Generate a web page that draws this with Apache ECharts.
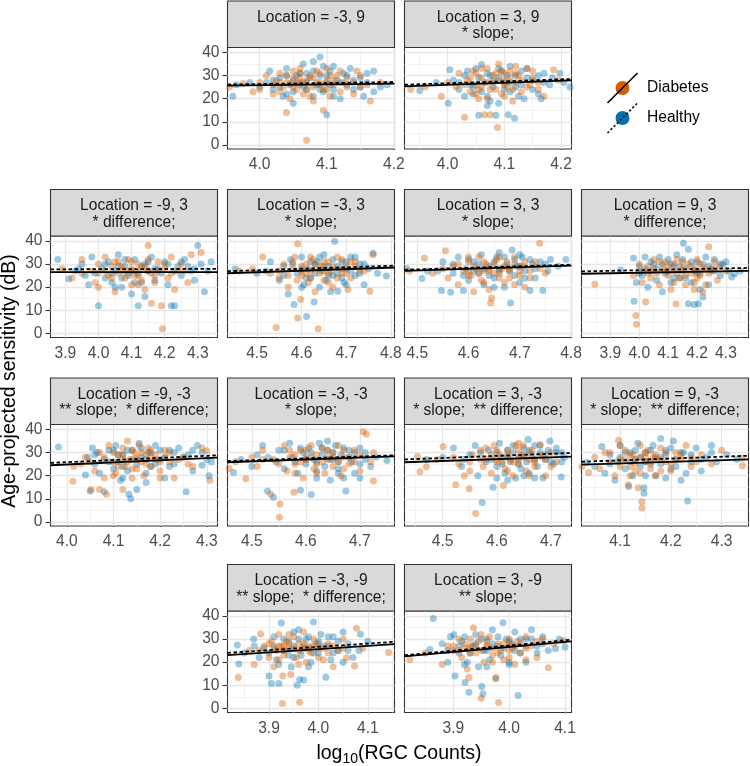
<!DOCTYPE html>
<html><head><meta charset="utf-8">
<script src="https://cdn.jsdelivr.net/npm/echarts@6/dist/echarts.min.js"></script>
<style>html,body{margin:0;padding:0;background:#fff}#c{width:750px;height:766px}</style>
</head><body><div id="c"></div><script>
// ---------------- DATA ----------------
const panelLocations = ['-3, 9','3, 9','-9, 3','-3, 3','3, 3','9, 3','-9, -3','-3, -3','3, -3','9, -3','-3, -9','3, -9'];
const panelNotes = ['', '* slope;', '* difference;', '* slope;', '* slope;', '* difference;',
  '** slope;  * difference;', '* slope;', '* slope;  ** difference;', '* slope;  ** difference;',
  '** slope;  * difference;', '** slope;'];
const xTickLabels = [[4.0,4.1,4.2],[4.0,4.1,4.2],[3.9,4.0,4.1,4.2,4.3],[4.5,4.6,4.7,4.8],[4.5,4.6,4.7,4.8],[3.9,4.0,4.1,4.2,4.3],
  [4.0,4.1,4.2,4.3],[4.5,4.6,4.7],[4.5,4.6,4.7],[4.1,4.2,4.3],[3.9,4.0,4.1],[3.9,4.0,4.1]];
const xRanges = [[3.952,4.201],[3.924,4.2185],[3.855,4.3595],[4.434,4.808],[4.475,4.801],[3.800,4.378],
  [3.965,4.323],[4.455,4.764],[4.4295,4.738],[4.024,4.353],[3.816,4.154],[3.8126,4.1116]];
const yTickLabels = [0,10,20,30,40];
// fitted regression lines: y at left and right end of each panel
const fitDiab = [[25.6,26.5],[25.3,27.9],[26.5,26.5],[26.0,28.5],[27.0,29.3],[25.8,27.0],[24.5,27.8],[25.8,28.3],[25.8,28.2],[24.8,27.0],[23.0,27.8],[22.5,29.0]];
const fitHlth = [[26.1,27.2],[26.0,28.5],[27.7,27.9],[26.9,29.3],[27.5,29.7],[26.8,28.3],[25.5,28.8],[26.3,28.8],[27.0,29.8],[26.0,28.6],[24.0,28.8],[23.0,29.7]];

const diab_m3_9 = [[3.955,25],[3.975,26.5],[3.99,23],[4.0,27],[4.01,30],[4.02,22],[4.025,28],[4.03,31],[4.035,25],[4.04,14],[4.04,27],[4.045,20],[4.05,29],[4.05,32],[4.055,24],[4.06,26],[4.06,33],[4.065,22],[4.07,2],[4.07,28],[4.075,30],[4.08,25],[4.08,19],[4.085,27],[4.09,31],[4.095,15],[4.095,24],[4.1,28],[4.1,33],[4.105,21],[4.11,26],[4.115,30],[4.12,23],[4.125,27],[4.13,29],[4.14,22],[4.145,32],[4.15,25],[4.165,19],[4.18,27],[4.03,27],[4.06,29],[4.09,27],[4.045,26.5],[4.055,27],
  [4.02,26],[4.03,23],[4.04,30],[4.05,25],[4.06,31],[4.065,27],[4.07,24],[4.08,29],[4.085,32],[4.09,26],[4.1,24],[4.105,30],[4.11,28],[4.12,32],[4.13,25],[4.14,27],[4.15,30],[4.16,26],[4.0,24],[4.075,21]];
const hlth_m3_9 = [[3.96,21],[3.965,26],[3.985,27],[4.0,25],[4.01,27],[4.015,32],[4.02,24],[4.03,29],[4.035,21],[4.04,33],[4.045,26],[4.05,23],[4.055,30],[4.06,27],[4.065,35],[4.07,24],[4.075,29],[4.08,36],[4.08,21],[4.085,26],[4.09,38],[4.09,30],[4.095,23],[4.1,13],[4.1,27],[4.105,32],[4.11,24],[4.115,28],[4.12,20],[4.125,31],[4.13,26],[4.135,33],[4.14,24],[4.15,29],[4.155,21],[4.16,27],[4.17,32],[4.18,25],[4.19,26],[4.05,18],[4.11,34],[4.07,31],
  [4.02,28],[4.03,25],[4.04,22],[4.05,28],[4.06,31],[4.065,25],[4.07,27],[4.08,32],[4.09,24],[4.1,30],[4.105,26],[4.11,21],[4.12,27],[4.13,30],[4.14,28],[4.15,25],[4.16,31],[4.17,23],[4.04,30],[4.095,34]];
const diab_3_9 = [[3.935,24],[3.96,25],[3.989,21],[4.0,27],[4.015,25],[4.02,31],[4.03,12],[4.035,28],[4.04,23],[4.045,32],[4.05,26],[4.055,20],[4.06,29],[4.065,13],[4.07,33],[4.075,13],[4.075,24],[4.08,27],[4.085,31],[4.088,7.5],[4.09,35],[4.095,22],[4.1,28],[4.105,25],[4.11,32],[4.115,19],[4.12,27],[4.125,30],[4.13,23],[4.14,33],[4.145,26],[4.15,29],[4.16,24],[4.17,21],[4.187,32.5],[4.195,28],[4.06,25],[4.1,31],[4.07,20],[4.12,34],
  [4.03,26],[4.04,29],[4.05,31],[4.055,24],[4.06,33],[4.07,27],[4.08,30],[4.085,24],[4.09,28],[4.095,32],[4.1,26],[4.11,29],[4.115,24],[4.12,31],[4.13,28],[4.14,25],[4.15,32],[4.16,27],[4.05,22],[4.1,21]];
const hlth_3_9 = [[3.951,23.5],[3.98,27],[4.001,18],[4.004,32.5],[4.01,28],[4.02,24],[4.03,30],[4.04,26],[4.045,22],[4.05,33],[4.055,12.8],[4.06,34.8],[4.065,27],[4.07,21],[4.075,30],[4.08,25],[4.085,12.8],[4.09,18],[4.095,32],[4.1,27],[4.107,13],[4.11,23],[4.118,11.5],[4.12,30],[4.13,26],[4.135,20],[4.14,33],[4.15,28],[4.16,22],[4.165,20],[4.17,31],[4.18,26],[4.198,31],[4.205,27],[4.216,25],[4.09,29],[4.11,34],[4.03,21],[4.07,17],
  [4.02,27],[4.035,32],[4.045,25],[4.055,29],[4.06,23],[4.07,31],[4.08,28],[4.09,33],[4.1,24],[4.105,30],[4.11,27],[4.12,25],[4.13,32],[4.14,29],[4.15,24],[4.16,30],[4.17,27],[4.185,29],[4.075,19],[4.125,21]];
const diab_m9_3 = [[3.89,28],[3.92,24],[3.95,32],[3.98,27],[3.99,22],[4.0,20],[4.0,26],[4.02,33],[4.03,25],[4.04,29],[4.05,18],[4.06,31],[4.07,27],[4.08,24],[4.09,32],[4.1,21],[4.1,28],[4.11,25],[4.12,30],[4.13,23],[4.14,19],[4.15,38],[4.15,27],[4.16,13],[4.17,25],[4.18,31],[4.19,12],[4.193,2],[4.2,28],[4.21,24],[4.22,33],[4.23,19],[4.24,27],[4.25,30],[4.27,22],[4.28,34],[4.31,35],[4.06,26],[4.13,28],
  [3.95,26],[4.0,30],[4.02,27],[4.04,24],[4.05,31],[4.07,29],[4.08,27],[4.09,26],[4.1,31],[4.11,27],[4.12,25],[4.14,29],[4.15,32],[4.16,26],[4.18,27],[4.2,30],[4.22,26],[4.26,27],[4.12,21],[4.17,22]];
const hlth_m9_3 = [[3.877,32],[3.91,23.5],[3.93,27],[3.95,30],[3.96,25],[3.97,21],[3.98,33],[4.0,12],[4.01,28],[4.02,24],[4.03,31],[4.04,22],[4.05,27],[4.06,34],[4.07,20],[4.08,29],[4.09,25],[4.1,17],[4.11,32],[4.12,12],[4.12,26],[4.13,22],[4.14,30],[4.15,27],[4.16,33],[4.17,23],[4.18,28],[4.2,31],[4.21,21],[4.22,12],[4.23,12],[4.24,29],[4.25,25],[4.26,32],[4.28,27],[4.3,38],[4.31,30],[4.32,18],[4.34,31],[4.29,23],[4.14,16],
  [3.94,28],[3.99,26],[4.02,30],[4.04,26],[4.06,29],[4.07,24],[4.08,32],[4.1,27],[4.11,22],[4.13,29],[4.15,31],[4.17,28],[4.19,26],[4.21,30],[4.23,27],[4.25,31],[4.27,29],[4.29,28],[4.33,27],[4.05,20]];
const diab_m3_3 = [[4.46,27],[4.49,28],[4.513,33],[4.53,26],[4.543,2.6],[4.55,24],[4.56,30],[4.57,20],[4.58,28],[4.585,33],[4.591,38.8],[4.591,6.7],[4.598,14.7],[4.6,25],[4.61,30],[4.615,22],[4.62,27],[4.625,32],[4.63,18],[4.637,2],[4.64,26],[4.645,29],[4.65,23],[4.66,31],[4.665,27],[4.67,20],[4.68,33],[4.69,26],[4.7,29],[4.704,19],[4.71,24],[4.72,31],[4.73,27],[4.753,18.2],[4.76,34],[4.6,27],[4.65,27],[4.69,32],
  [4.55,27],[4.57,25],[4.58,31],[4.6,29],[4.61,26],[4.62,24],[4.63,30],[4.64,28],[4.65,31],[4.66,26],[4.67,29],[4.68,24],[4.69,28],[4.7,26],[4.72,29],[4.74,27],[4.62,33],[4.66,22],[4.59,23],[4.71,31]];
const hlth_m3_3 = [[4.451,27.8],[4.5,26],[4.53,31],[4.55,23],[4.56,29],[4.57,17],[4.575,32],[4.583,12.5],[4.59,26],[4.6,33],[4.605,21],[4.611,7.3],[4.615,28],[4.62,24],[4.628,13.6],[4.635,31],[4.64,20],[4.645,27],[4.65,34],[4.655,23],[4.66,29],[4.665,18],[4.674,39.8],[4.68,26],[4.681,18.2],[4.69,31],[4.695,22],[4.7,28],[4.71,33],[4.72,25],[4.73,30],[4.74,21],[4.75,28],[4.76,34.7],[4.77,26],[4.79,24.8],[4.63,30],[4.67,25],
  [4.52,27],[4.56,25],[4.58,30],[4.6,28],[4.61,24],[4.62,31],[4.63,26],[4.64,33],[4.65,29],[4.66,25],[4.67,32],[4.68,29],[4.69,24],[4.7,31],[4.71,27],[4.72,33],[4.73,26],[4.74,30],[4.6,20],[4.7,21]];
const diab_3_3 = [[4.485,27],[4.514,32.6],[4.53,26],[4.555,35.7],[4.56,24],[4.57,29],[4.58,21],[4.59,27],[4.6,31],[4.605,25],[4.61,18],[4.615,28],[4.62,33],[4.625,23],[4.63,27],[4.635,30],[4.64,19],[4.643,13.2],[4.645,15.3],[4.65,26],[4.655,32],[4.66,24],[4.665,28],[4.67,22],[4.675,31],[4.68,27],[4.69,33],[4.7,25],[4.705,29],[4.71,20],[4.72,27],[4.73,31],[4.739,39],[4.75,26],[4.6,27],[4.64,27],[4.68,28],
  [4.55,28],[4.58,30],[4.6,25],[4.61,29],[4.62,26],[4.63,31],[4.64,28],[4.65,30],[4.66,26],[4.67,29],[4.68,24],[4.69,30],[4.7,27],[4.71,31],[4.72,24],[4.74,28],[4.6,33],[4.66,33],[4.63,22],[4.69,21]];
const hlth_3_3 = [[4.48,28],[4.509,23.7],[4.52,27],[4.547,18.6],[4.55,31],[4.565,17.8],[4.57,26],[4.58,33],[4.59,18.6],[4.595,28],[4.6,23],[4.61,31],[4.62,26],[4.625,34],[4.63,21],[4.64,29],[4.65,24],[4.655,33],[4.66,27],[4.67,20],[4.675,30],[4.682,13.2],[4.685,36],[4.69,25],[4.695,29],[4.7,22],[4.705,33],[4.71,27],[4.72,18.6],[4.725,30],[4.73,24],[4.74,31],[4.745,18.6],[4.755,27],[4.76,32],[4.775,29],[4.79,32],[4.66,35],
  [4.54,27],[4.57,30],[4.59,25],[4.6,32],[4.61,27],[4.62,30],[4.63,28],[4.64,25],[4.65,31],[4.66,28],[4.67,33],[4.68,27],[4.69,32],[4.7,29],[4.71,24],[4.72,32],[4.73,28],[4.75,30],[4.65,20],[4.7,34]];
const diab_9_3 = [[3.846,21.3],[3.98,25],[3.988,7.8],[3.99,4],[4.0,27],[4.01,22],[4.022,13.6],[4.03,29],[4.04,24],[4.05,32],[4.06,26],[4.07,21],[4.08,28],[4.09,31],[4.1,25],[4.11,19],[4.12,27],[4.127,12.7],[4.13,32],[4.14,24],[4.15,28],[4.16,21],[4.17,30],[4.18,26],[4.19,19],[4.2,32],[4.21,25],[4.22,18],[4.23,28],[4.24,37.5],[4.25,27],[4.26,31],[4.27,23],[4.28,29],[4.3,27],[4.02,27],[4.15,27],[4.2,27],
  [4.0,30],[4.03,26],[4.05,28],[4.07,31],[4.09,27],[4.1,29],[4.12,30],[4.13,26],[4.15,31],[4.16,25],[4.18,29],[4.19,27],[4.2,24],[4.21,30],[4.22,28],[4.24,26],[4.26,28],[4.12,22],[4.19,22],[4.23,21]];
const hlth_9_3 = [[3.935,27.4],[3.98,32.6],[3.982,13.9],[3.99,22],[4.0,29],[4.01,25],[4.02,33],[4.03,20],[4.04,27],[4.05,30],[4.06,23],[4.07,33],[4.08,18],[4.09,26],[4.1,32],[4.11,22],[4.12,29],[4.13,34],[4.14,24],[4.153,39],[4.16,28],[4.17,36.4],[4.17,12.8],[4.18,22],[4.19,12.5],[4.2,31],[4.205,12.8],[4.21,26],[4.22,15.8],[4.23,33],[4.24,21],[4.25,28],[4.26,32],[4.28,25],[4.29,30],[4.31,27],[4.32,24.4],[4.33,25.8],[4.35,27],
  [4.0,26],[4.02,28],[4.04,31],[4.06,28],[4.08,30],[4.1,27],[4.11,30],[4.12,24],[4.14,29],[4.15,32],[4.16,24],[4.18,31],[4.19,28],[4.2,26],[4.22,30],[4.24,29],[4.26,27],[4.28,30],[4.3,31],[4.21,19]];
const diab_m9_m3 = [[4.013,17.6],[4.015,24],[4.03,25],[4.04,28],[4.052,14],[4.06,22],[4.07,14],[4.07,30],[4.08,19],[4.085,12],[4.09,33],[4.1,26],[4.105,21],[4.11,29],[4.12,14],[4.12,32],[4.125,24],[4.13,35],[4.135,27],[4.14,19],[4.145,30],[4.15,23],[4.155,33],[4.16,26],[4.165,20],[4.17,29],[4.175,32],[4.18,24],[4.19,27],[4.2,22],[4.21,31],[4.22,26],[4.23,19],[4.25,28],[4.27,24],[4.29,32],[4.3,30.8],[4.307,18],[4.12,27],[4.15,27],[4.18,28],
  [4.05,26],[4.08,28],[4.1,30],[4.11,24],[4.12,29],[4.13,26],[4.14,31],[4.15,28],[4.16,30],[4.17,25],[4.18,31],[4.19,29],[4.2,26],[4.21,28],[4.22,30],[4.24,27],[4.26,25],[4.14,23],[4.1,20],[4.2,19]];
const hlth_m9_m3 = [[3.982,32.4],[4.04,20.3],[4.045,28],[4.05,13.4],[4.055,32],[4.06,25],[4.065,30],[4.07,21],[4.08,13],[4.08,27],[4.09,31],[4.1,23],[4.105,33],[4.11,26],[4.115,18],[4.12,29],[4.13,22],[4.133,12],[4.137,10],[4.14,31],[4.15,14],[4.15,25],[4.155,34],[4.16,28],[4.17,21],[4.175,30],[4.18,24],[4.19,33],[4.2,27],[4.21,19],[4.22,31],[4.23,25],[4.24,32],[4.256,13],[4.26,29],[4.27,22],[4.28,33],[4.29,24.5],[4.3,27],[4.305,20],[4.31,26],
  [4.06,29],[4.09,26],[4.1,31],[4.11,29],[4.12,24],[4.13,31],[4.14,27],[4.16,32],[4.17,27],[4.18,30],[4.19,25],[4.2,31],[4.21,28],[4.22,24],[4.23,30],[4.25,28],[4.27,31],[4.29,30],[4.12,19],[4.17,17]];
const diab_m3_m3 = [[4.458,23.1],[4.47,26],[4.489,18.7],[4.5,28],[4.51,24],[4.52,31],[4.535,12],[4.54,27],[4.551,2],[4.552,7.8],[4.56,33],[4.565,22],[4.57,28],[4.578,12.8],[4.58,25],[4.59,31],[4.595,19],[4.6,27],[4.61,33],[4.615,23],[4.62,29],[4.63,26],[4.635,21],[4.64,31],[4.645,27],[4.65,24],[4.66,33],[4.665,20],[4.67,28],[4.68,25],[4.69,31],[4.7,22],[4.706,39],[4.712,38],[4.725,30],[4.725,17.7],[4.6,27],[4.65,28],
  [4.52,27],[4.55,25],[4.57,31],[4.58,29],[4.59,26],[4.6,31],[4.61,28],[4.62,25],[4.63,32],[4.64,28],[4.65,30],[4.66,26],[4.67,31],[4.68,28],[4.69,26],[4.7,29],[4.72,26],[4.62,21],[4.67,23],[4.58,21]];
const hlth_m3_m3 = [[4.466,21.4],[4.48,27],[4.5,24],[4.51,29],[4.52,33],[4.529,13.4],[4.54,10.7],[4.545,26],[4.55,31],[4.56,23],[4.57,34],[4.575,28],[4.585,21],[4.59,13.7],[4.595,30],[4.6,25],[4.605,32],[4.61,11.9],[4.615,27],[4.62,22],[4.625,34],[4.63,29],[4.635,24],[4.64,31],[4.645,18],[4.65,27],[4.655,33],[4.66,23],[4.665,29],[4.67,19],[4.674,13.4],[4.68,31],[4.685,26],[4.69,21],[4.7,32],[4.71,27],[4.72,24],[4.75,26.5],[4.64,35],
  [4.53,28],[4.56,31],[4.58,26],[4.59,32],[4.6,28],[4.61,30],[4.62,26],[4.63,32],[4.64,27],[4.65,30],[4.66,26],[4.67,32],[4.68,28],[4.69,30],[4.7,25],[4.71,30],[4.73,28],[4.66,21],[4.62,19],[4.7,19]];
const diab_3_m3 = [[4.454,28.3],[4.458,21.7],[4.47,23.8],[4.49,27],[4.501,32.6],[4.524,16.1],[4.53,25],[4.54,20],[4.549,14.3],[4.555,29],[4.561,3.7],[4.57,31],[4.575,24],[4.58,27],[4.59,21],[4.595,33],[4.6,26],[4.605,29],[4.612,15.7],[4.615,23],[4.62,31],[4.625,27],[4.63,20],[4.635,33],[4.64,25],[4.645,29],[4.649,33],[4.655,22],[4.66,27],[4.665,31],[4.67,24],[4.68,33.4],[4.685,28],[4.69,20],[4.7,30],[4.71,26],[4.6,27],[4.64,27],[4.67,27],
  [4.52,28],[4.55,26],[4.57,27],[4.59,29],[4.6,31],[4.61,26],[4.62,29],[4.63,26],[4.64,31],[4.65,28],[4.66,30],[4.67,26],[4.68,29],[4.69,27],[4.7,24],[4.55,22],[4.62,22],[4.66,20],[4.58,32],[4.64,34]];
const hlth_3_m3 = [[4.47,27],[4.5,28],[4.52,32],[4.535,24],[4.55,29],[4.56,33],[4.565,20],[4.573,8.4],[4.58,26],[4.585,31],[4.593,15],[4.6,24],[4.605,34],[4.61,28],[4.615,21],[4.62,31],[4.625,26],[4.63,33],[4.635,19],[4.64,28],[4.645,23],[4.65,32],[4.655,26],[4.658,35.6],[4.66,21],[4.665,29],[4.67,33],[4.675,24],[4.68,30],[4.685,19],[4.69,27],[4.695,31],[4.698,35],[4.705,25],[4.71,30],[4.719,19.4],[4.725,28],[4.62,18],
  [4.54,27],[4.57,30],[4.59,27],[4.6,30],[4.61,25],[4.62,28],[4.63,30],[4.64,25],[4.65,29],[4.66,31],[4.67,27],[4.68,33],[4.69,29],[4.7,26],[4.71,32],[4.72,26],[4.65,20],[4.67,19],[4.6,19],[4.72,30]];
const diab_9_m3 = [[4.025,24],[4.038,21.4],[4.05,28],[4.06,23],[4.07,30],[4.08,26],[4.09,20],[4.097,35.3],[4.1,27],[4.11,31],[4.116,16.1],[4.12,24],[4.125,29],[4.13,22],[4.136,14.8],[4.14,33],[4.143,8.7],[4.143,6],[4.15,26],[4.155,31],[4.16,23],[4.165,28],[4.17,20],[4.18,32],[4.19,26],[4.2,22],[4.21,30],[4.22,27],[4.23,33],[4.24,24],[4.26,29],[4.28,25],[4.3,31],[4.34,27.5],[4.341,24.3],[4.13,27],[4.17,27],[4.15,28],
  [4.08,30],[4.1,24],[4.11,27],[4.12,29],[4.13,25],[4.14,28],[4.15,30],[4.16,26],[4.17,29],[4.18,27],[4.19,30],[4.2,25],[4.21,27],[4.22,29],[4.24,28],[4.14,21],[4.18,22],[4.12,20],[4.25,26],[4.1,33]];
const hlth_9_m3 = [[4.035,25.7],[4.05,24],[4.064,32.6],[4.07,21],[4.08,29],[4.09,18],[4.095,26],[4.1,33],[4.11,23],[4.117,15.3],[4.12,30],[4.125,20],[4.13,27],[4.135,34],[4.14,24],[4.147,14.8],[4.147,12.4],[4.15,30],[4.16,25],[4.165,33],[4.17,20],[4.18,28],[4.19,31],[4.2,23],[4.205,35],[4.21,27],[4.22,18],[4.225,30],[4.233,9],[4.24,26],[4.25,32],[4.26,22],[4.27,28],[4.28,33],[4.29,26],[4.31,29],[4.33,27],[4.18,36],
  [4.08,25],[4.1,28],[4.11,30],[4.12,26],[4.13,31],[4.14,28],[4.15,26],[4.16,31],[4.17,28],[4.18,25],[4.19,29],[4.2,32],[4.21,24],[4.22,30],[4.24,29],[4.26,27],[4.28,30],[4.15,20],[4.19,19],[4.23,21]];
const diab_m3_m9 = [[3.838,13.4],[3.86,25],[3.87,19],[3.883,32.2],[3.89,27],[3.9,22],[3.905,29],[3.91,18],[3.915,25],[3.92,32],[3.925,27],[3.927,2.1],[3.928,14],[3.93,23],[3.935,29],[3.94,26],[3.944,14.7],[3.95,31],[3.955,22],[3.96,28],[3.962,2.7],[3.965,25],[3.97,33],[3.975,20],[3.98,27],[3.985,24],[3.99,30],[4.0,26],[4.01,21],[4.02,28],[4.03,18],[4.04,25],[4.05,30],[4.057,21.9],[4.073,18.3],[4.077,34.6],[4.09,26],[4.142,24.2],[3.93,27],[3.97,27],
  [3.88,25],[3.9,28],[3.91,26],[3.92,27],[3.93,25],[3.94,28],[3.95,26],[3.96,25],[3.97,28],[3.98,25],[3.99,27],[4.0,28],[4.01,26],[4.02,24],[4.03,27],[4.05,26],[3.92,21],[3.96,19],[4.0,22],[3.94,32]];
const hlth_m3_m9 = [[3.836,27.4],[3.839,19.2],[3.85,24],[3.869,30],[3.88,22],[3.89,26],[3.9,14],[3.905,10.8],[3.91,31],[3.915,21],[3.92,10.8],[3.925,36.9],[3.93,25],[3.94,29],[3.945,18],[3.95,33],[3.957,10],[3.962,12.5],[3.965,23],[3.97,12.3],[3.975,30],[3.98,26],[3.985,20],[3.99,37.3],[3.995,28],[4.0,24],[4.005,32],[4.015,13.5],[4.02,27],[4.025,21],[4.03,31],[4.04,25],[4.05,33],[4.06,28],[4.07,22],[4.082,24.9],[4.085,32.1],[4.1,29],[3.96,34],
  [3.87,27],[3.9,24],[3.91,27],[3.93,30],[3.94,23],[3.95,27],[3.96,30],[3.97,26],[3.98,31],[3.99,24],[4.0,29],[4.01,27],[4.02,31],[4.03,24],[4.04,29],[4.06,25],[3.92,19],[3.98,18],[4.05,20],[3.95,22]];
const diab_3_m9 = [[3.822,21],[3.85,24],[3.88,19],[3.89,27],[3.9,25],[3.91,30],[3.915,22],[3.92,28],[3.925,17],[3.928,13.4],[3.93,26],[3.936,34.9],[3.94,24],[3.945,29],[3.95,4.4],[3.955,20],[3.96,27],[3.965,31],[3.97,23],[3.976,13.4],[3.98,28],[3.981,2.6],[3.985,25],[3.99,21],[4.0,30],[4.005,26],[4.01,19],[4.015,29],[4.02,24],[4.03,31],[4.04,27],[4.05,22],[4.06,30],[4.07,17.6],[4.08,28],[4.097,29.4],[3.93,27],[3.96,27],[4.0,28],
  [3.9,27],[3.91,25],[3.92,26],[3.93,24],[3.94,27],[3.95,25],[3.96,29],[3.97,26],[3.98,24],[3.99,28],[4.0,25],[4.01,27],[4.02,28],[4.03,26],[4.05,29],[3.93,30],[3.97,20],[4.0,22],[4.03,21],[3.95,32]];
const hlth_3_m9 = [[3.858,25.5],[3.864,38.9],[3.88,28],[3.89,20],[3.895,31],[3.901,31.8],[3.903,14],[3.91,24],[3.915,29],[3.921,11.2],[3.925,20],[3.928,7],[3.935,27],[3.94,32],[3.945,18],[3.951,9.5],[3.953,6.4],[3.955,25],[3.96,30],[3.965,21],[3.97,34],[3.976,12.8],[3.98,27],[3.985,23],[3.989,37],[3.995,30],[4.0,19],[4.005,28],[4.01,33],[4.016,5.6],[4.02,24],[4.03,30],[4.04,34],[4.05,27],[4.06,31],[4.07,25],[4.083,25.9],[4.09,30],[4.1,26.6],[4.03,20],
  [3.89,25],[3.91,27],[3.92,31],[3.93,24],[3.94,28],[3.95,30],[3.96,25],[3.97,28],[3.98,31],[3.99,26],[4.0,29],[4.01,25],[4.02,30],[4.03,27],[4.04,30],[4.06,28],[3.92,19],[3.96,18],[4.0,20],[4.05,24]];

const diabSets = [diab_m3_9, diab_3_9, diab_m9_3, diab_m3_3, diab_3_3, diab_9_3, diab_m9_m3, diab_m3_m3, diab_3_m3, diab_9_m3, diab_m3_m9, diab_3_m9];
const hlthSets = [hlth_m3_9, hlth_3_9, hlth_m9_3, hlth_m3_3, hlth_3_3, hlth_9_3, hlth_m9_m3, hlth_m3_m3, hlth_3_m3, hlth_9_m3, hlth_m3_m9, hlth_3_m9];
const groupNames = ['Diabetes', 'Healthy'];

// ---------------- LAYOUT / STYLE ----------------
const FONT = '"Liberation Sans", Arial, sans-serif';
const COL_D = '#D55E00', COL_H = '#0072B2';
const panelCell = [[0,1],[0,2],[1,0],[1,1],[1,2],[1,3],[2,0],[2,1],[2,2],[2,3],[3,1],[3,2]];
const COLX = [50.5, 227.5, 404.5, 581.5], PW = 167;
const ROWY = [1, 189.5, 378, 564.5], SH = 46.5, PH = 101.5;
const YMIN = -1.75, YMAX = 42.1;
const FS = 15.6;

const grids = [], xAxes = [], yAxes = [], series = [], graphics = [];
panelLocations.forEach((loc, i) => {
  const [r, c] = panelCell[i];
  const left = COLX[c], top = ROWY[r] + SH;
  const showY = (i === 0 || i === 2 || i === 6 || i === 10);
  const xr = xRanges[i], ticks = xTickLabels[i];
  grids.push({left: left, top: top, width: PW, height: PH, show: true, backgroundColor: '#fff',
    borderColor: '#333333', borderWidth: 1.1, containLabel: false, outerBoundsMode: 'none'});
  xAxes.push({type: 'value', gridIndex: i, min: xr[0], max: xr[1],
    axisLine: {show: false}, splitLine: {show: false},
    axisTick: {show: true, length: 5, lineStyle: {color: '#333333', width: 1.1}, customValues: ticks},
    axisLabel: {customValues: ticks, formatter: v => v.toFixed(1), color: '#4D4D4D', fontSize: FS,
      fontFamily: FONT, margin: 8, showMinLabel: true, showMaxLabel: true, hideOverlap: false}});
  yAxes.push({type: 'value', gridIndex: i, min: YMIN, max: YMAX,
    axisLine: {show: false}, splitLine: {show: false},
    axisTick: {show: showY, length: 5, lineStyle: {color: '#333333', width: 1.1}, customValues: yTickLabels},
    axisLabel: {show: showY, customValues: yTickLabels, color: '#4D4D4D', fontSize: FS, fontFamily: FONT, margin: 8,
      showMinLabel: true, showMaxLabel: true}});
  // grid lines (major + minor) through the axis scales
  const gl = [];
  const minorX = [];
  ticks.forEach(t => { [t - 0.05, t + 0.05].forEach(m => { m = Math.round(m * 1000) / 1000; if (m > xr[0] && m < xr[1] && minorX.indexOf(m) < 0) minorX.push(m); }); });
  minorX.forEach(m => gl.push({xAxis: m, lineStyle: {color: '#F0F0F0', width: 0.8, type: 'solid'}}));
  [5,15,25,35].forEach(m => gl.push({yAxis: m, lineStyle: {color: '#F0F0F0', width: 0.8, type: 'solid'}}));
  ticks.forEach(t => gl.push({xAxis: t, lineStyle: {color: '#E6E6E6', width: 1.3, type: 'solid'}}));
  yTickLabels.forEach(t => gl.push({yAxis: t, lineStyle: {color: '#E6E6E6', width: 1.3, type: 'solid'}}));
  series.push({type: 'line', xAxisIndex: i, yAxisIndex: i, data: [], silent: true, animation: false,
    markLine: {silent: true, symbol: ['none', 'none'], z: 1, animation: false, label: {show: false},
      emphasis: {disabled: true}, data: gl}});
  series.push({type: 'scatter', name: groupNames[1], xAxisIndex: i, yAxisIndex: i, data: hlthSets[i],
    symbolSize: 7, itemStyle: {color: COL_H, opacity: 0.38}, z: 2, silent: true, animation: false});
  series.push({type: 'scatter', name: groupNames[0], xAxisIndex: i, yAxisIndex: i, data: diabSets[i],
    symbolSize: 7, itemStyle: {color: COL_D, opacity: 0.4}, z: 2, silent: true, animation: false});
  series.push({type: 'line', xAxisIndex: i, yAxisIndex: i, data: [[xr[0], fitDiab[i][0]], [xr[1], fitDiab[i][1]]],
    symbol: 'none', lineStyle: {color: '#000', width: 1.8, type: 'solid'}, z: 4, silent: true, animation: false});
  series.push({type: 'line', xAxisIndex: i, yAxisIndex: i, data: [[xr[0], fitHlth[i][0]], [xr[1], fitHlth[i][1]]],
    symbol: 'none', lineStyle: {color: '#000', width: 1.8, type: [3.5, 2.5]}, z: 4, silent: true, animation: false});
  // strip
  graphics.push({type: 'rect', shape: {x: left, y: ROWY[r], width: PW, height: SH},
    style: {fill: '#D9D9D9', stroke: '#333333', lineWidth: 1.1}, z: 10});
  graphics.push({type: 'text', style: {text: 'Location = ' + loc, x: left + PW / 2, y: ROWY[r] + 16.5,
    align: 'center', verticalAlign: 'middle', fill: '#1A1A1A', font: FS + 'px ' + FONT}, z: 11});
  if (panelNotes[i]) graphics.push({type: 'text', style: {text: panelNotes[i], x: left + PW / 2, y: ROWY[r] + 33,
    align: 'center', verticalAlign: 'middle', fill: '#1A1A1A', font: FS + 'px ' + FONT}, z: 11});
});

// legend
[[COL_D, 88, [], groupNames[0]], [COL_H, 118, [2.2, 2.2], groupNames[1]]].forEach(([col, cy, dash, name]) => {
  graphics.push({type: 'circle', shape: {cx: 622.5, cy: cy, r: 7}, style: {fill: col}, z: 10});
  graphics.push({type: 'line', shape: {x1: 607.5, y1: cy + 15, x2: 637.5, y2: cy - 15},
    style: {stroke: '#000', lineWidth: 1.6, lineDash: dash}, z: 11});
  graphics.push({type: 'text', style: {text: name, x: 647, y: cy, align: 'left', verticalAlign: 'middle',
    fill: '#000', font: FS + 'px ' + FONT}, z: 11});
});

// axis titles
const TFS = 19.5, SUBFS = 14;
const cv = document.createElement('canvas').getContext('2d');
cv.font = TFS + 'px ' + FONT; const wLog = cv.measureText('log').width, wRest = cv.measureText('(RGC Counts)').width;
cv.font = SUBFS + 'px ' + FONT; const wSub = cv.measureText('10').width;
const totalW = wLog + wSub + wRest; let tx = 399 - totalW / 2;
graphics.push({type: 'text', style: {text: 'log', x: tx, y: 754, align: 'left', verticalAlign: 'middle', fill: '#000', font: TFS + 'px ' + FONT}});
graphics.push({type: 'text', style: {text: '10', x: tx + wLog, y: 759, align: 'left', verticalAlign: 'middle', fill: '#000', font: SUBFS + 'px ' + FONT}});
graphics.push({type: 'text', style: {text: '(RGC Counts)', x: tx + wLog + wSub, y: 754, align: 'left', verticalAlign: 'middle', fill: '#000', font: TFS + 'px ' + FONT}});
graphics.push({type: 'text', x: 10, y: 381, rotation: Math.PI / 2,
  style: {text: 'Age-projected sensitivity (dB)', x: 0, y: 0, align: 'center', verticalAlign: 'middle', fill: '#000', font: TFS + 'px ' + FONT}});

const chart = echarts.init(document.getElementById('c'), null, {renderer: 'canvas'});
chart.setOption({animation: false, backgroundColor: '#fff', grid: grids, xAxis: xAxes, yAxis: yAxes, series: series, graphic: graphics});
</script></body></html>
